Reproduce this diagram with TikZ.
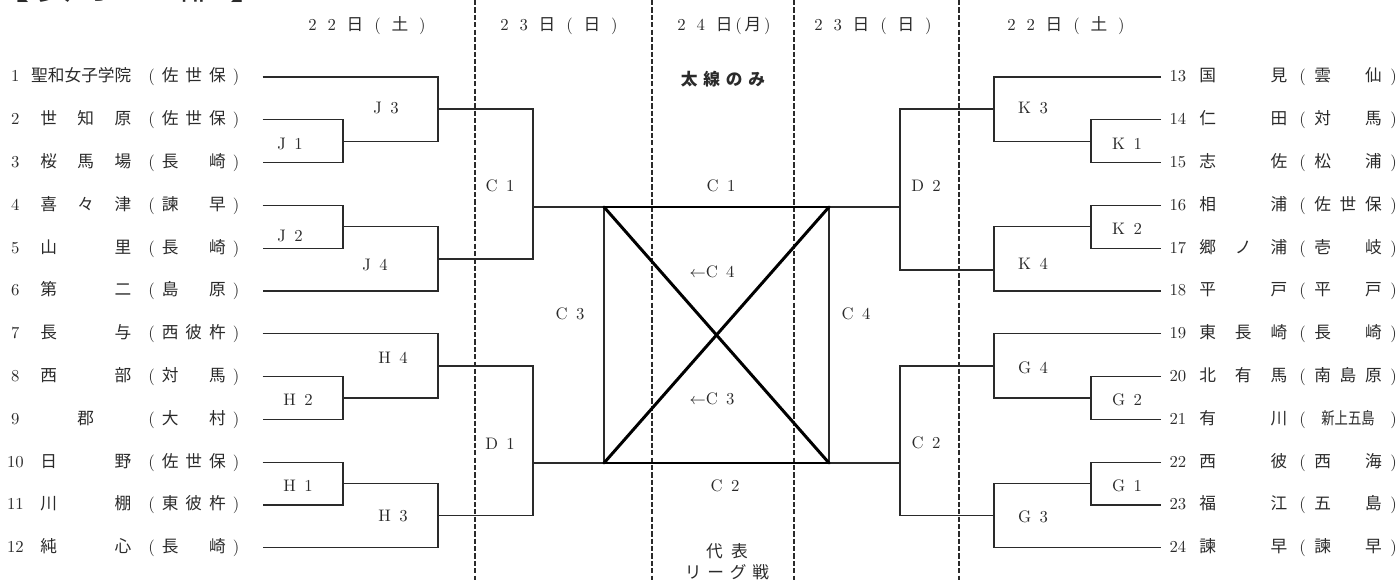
\documentclass[tikz,border=0pt]{standalone}
\usepackage{fontspec}
\usepackage{graphicx}
\newfontfamily\cjk{Noto Sans CJK JP}
\usetikzlibrary{positioning}
\tikzset{font=\fontsize{9.5}{11}\selectfont}
\definecolor{ink}{HTML}{2A2A2A}

\newlength{\numw}\newlength{\namew}\newlength{\cityw}
\newlength{\gapa}\newlength{\gapb}
\newcommand{\jslot}[1]{\makebox[1em]{\cjk #1}}
\newcommand{\three}[3]{\jslot{#1}\hfill\jslot{#2}\hfill\jslot{#3}}
\newcommand{\teamrow}[3]{\makebox[\numw]{#1}\hspace{\gapa}%
  \makebox[\namew][s]{#2}\hspace{\gapb}\makebox[\cityw][s]{(\hfill#3\hfill)}}
\newcommand{\dgap}{\hspace{.65em}}

\tikzset{
  lrow/.style={anchor=west, inner sep=0pt, text=ink,
    execute at begin node={\setlength{\numw}{.4cm}\setlength{\gapa}{.3cm}%
      \setlength{\namew}{1.82cm}\setlength{\gapb}{.34cm}\setlength{\cityw}{1.82cm}}},
  rrow/.style={anchor=west, inner sep=0pt, text=ink,
    execute at begin node={\setlength{\numw}{.42cm}\setlength{\gapa}{.22cm}%
      \setlength{\namew}{1.76cm}\setlength{\gapb}{.24cm}\setlength{\cityw}{1.95cm}}},
  bracket/.style={draw=ink, line width=.7pt},
  final/.style={draw=black, line width=1.7pt, line cap=round},
  daysep/.style={draw=ink, line width=.6pt, dash pattern=on 3pt off 1.2pt},
  game/.style={inner sep=1pt, text=ink}
}

\begin{document}
\begin{tikzpicture}[x=0.02cm, y=-0.02cm]
\useasboundingbox (0,0) rectangle (1400,580);

% title, cut at the top edge
\foreach \x/\c [count=\k] in {12/【,55/女,103/子,150/の,197/部,248/】}
\node[font=\cjk\fontsize{20}{24}\selectfont, text=ink] (title\k) at (\x,-14) {\c};

% day columns
\foreach \x in {475,652,794,959}
\draw[daysep] (\x,0) -- (\x,580);
\node[game] (d22l) at (367,26) {2\dgap2\dgap{\cjk 日}\dgap(\dgap{\cjk 土}\dgap)};
\node[game] (d23l) at (559,26) {2\dgap3\dgap{\cjk 日}\dgap(\dgap{\cjk 日}\dgap)};
\node[game] (d24) at (724,26) {2\dgap4\dgap{\cjk 日}\,(\,{\cjk 月}\,)};
\node[game] (d23r) at (873,26) {2\dgap3\dgap{\cjk 日}\dgap(\dgap{\cjk 日}\dgap)};
\node[game] (d22r) at (1066,26) {2\dgap2\dgap{\cjk 日}\dgap(\dgap{\cjk 土}\dgap)};

% left teams
\node[lrow] (t1) at (5,77) {\teamrow{1}{\hfill\llap{\cjk 聖和女子学院}}{\three{佐}{世}{保}}};
\node[lrow] (t2) at (5,119.8) {\teamrow{2}{\three{世}{知}{原}}{\three{佐}{世}{保}}};
\node[lrow] (t3) at (5,162.6) {\teamrow{3}{\three{桜}{馬}{場}}{\three{長}{}{崎}}};
\node[lrow] (t4) at (5,205.4) {\teamrow{4}{\three{喜}{々}{津}}{\three{諫}{}{早}}};
\node[lrow] (t5) at (5,248.2) {\teamrow{5}{\three{山}{}{里}}{\three{長}{}{崎}}};
\node[lrow] (t6) at (5,291) {\teamrow{6}{\three{第}{}{二}}{\three{島}{}{原}}};
\node[lrow] (t7) at (5,333.8) {\teamrow{7}{\three{長}{}{与}}{\three{西}{彼}{杵}}};
\node[lrow] (t8) at (5,376.6) {\teamrow{8}{\three{西}{}{部}}{\three{対}{}{馬}}};
\node[lrow] (t9) at (5,419.4) {\teamrow{9}{\three{}{郡}{}}{\three{大}{}{村}}};
\node[lrow] (t10) at (5,462.2) {\teamrow{10}{\three{日}{}{野}}{\three{佐}{世}{保}}};
\node[lrow] (t11) at (5,505) {\teamrow{11}{\three{川}{}{棚}}{\three{東}{彼}{杵}}};
\node[lrow] (t12) at (5,547.8) {\teamrow{12}{\three{純}{}{心}}{\three{長}{}{崎}}};

% right teams
\node[rrow] (t13) at (1167,77) {\teamrow{13}{\three{国}{}{見}}{\three{雲}{}{仙}}};
\node[rrow] (t14) at (1167,119.8) {\teamrow{14}{\three{仁}{}{田}}{\three{対}{}{馬}}};
\node[rrow] (t15) at (1167,162.6) {\teamrow{15}{\three{志}{}{佐}}{\three{松}{}{浦}}};
\node[rrow] (t16) at (1167,205.4) {\teamrow{16}{\three{相}{}{浦}}{\three{佐}{世}{保}}};
\node[rrow] (t17) at (1167,248.2) {\teamrow{17}{\three{郷}{ノ}{浦}}{\three{壱}{}{岐}}};
\node[rrow] (t18) at (1167,291) {\teamrow{18}{\three{平}{}{戸}}{\three{平}{}{戸}}};
\node[rrow] (t19) at (1167,333.8) {\teamrow{19}{\three{東}{長}{崎}}{\three{長}{}{崎}}};
\node[rrow] (t20) at (1167,376.6) {\teamrow{20}{\three{北}{有}{馬}}{\three{南}{島}{原}}};
\node[rrow] (t21) at (1167,419.4) {\teamrow{21}{\three{有}{}{川}}{\scalebox{.8}[1]{\cjk 新上五島}}};
\node[rrow] (t22) at (1167,462.2) {\teamrow{22}{\three{西}{}{彼}}{\three{西}{}{海}}};
\node[rrow] (t23) at (1167,505) {\teamrow{23}{\three{福}{}{江}}{\three{五}{}{島}}};
\node[rrow] (t24) at (1167,547.8) {\teamrow{24}{\three{諫}{}{早}}{\three{諫}{}{早}}};

\foreach \i in {1,...,12}
\coordinate (p\i) at ([xshift=.46cm]t\i.east);
\foreach \i in {13,...,24}
\coordinate (q\i) at ([xshift=-.12cm]t\i.west);

% joints
\coordinate (j1) at (343,141.2); \coordinate (j2) at (343,226.8);
\coordinate (h2) at (343,398);   \coordinate (h1) at (343,483.6);
\coordinate (j3) at (438,109.1); \coordinate (j4) at (438,258.9);
\coordinate (h4) at (438,365.9); \coordinate (h3) at (438,515.7);
\coordinate (c1) at (533,207);   \coordinate (d1) at (533,463);
\coordinate (nw) at (604,207);   \coordinate (ne) at (829,207);
\coordinate (sw) at (604,463);   \coordinate (se) at (829,463);
\coordinate (d2) at (900,207);   \coordinate (c2) at (900,463);
\coordinate (k3) at (994,109.1); \coordinate (k4) at (994,270);
\coordinate (g4) at (994,365.9); \coordinate (g3) at (994,515.7);
\coordinate (k1) at (1091,141.2); \coordinate (k2) at (1091,226.8);
\coordinate (g2) at (1091,398);  \coordinate (g1) at (1091,483.6);

% left bracket
\draw[bracket] (p2) -| (j1) |- (p3);
\draw[bracket] (p1) -| (j3) |- (j1);
\draw[bracket] (p4) -| (j2) |- (p5);
\draw[bracket] (j2) -| (j4) |- (p6);
\draw[bracket] (p8) -| (h2) |- (p9);
\draw[bracket] (p7) -| (h4) |- (h2);
\draw[bracket] (p10) -| (h1) |- (p11);
\draw[bracket] (h1) -| (h3) |- (p12);
\draw[bracket] (j3) -| (c1) |- (j4);
\draw[bracket] (h4) -| (d1) |- (h3);
\draw[bracket] (c1) -- (nw);
\draw[bracket] (d1) -- (sw);

% right bracket
\draw[bracket] (q14) -| (k1) |- (q15);
\draw[bracket] (q13) -| (k3) |- (k1);
\draw[bracket] (q16) -| (k2) |- (q17);
\draw[bracket] (k2) -| (k4) |- (q18);
\draw[bracket] (q20) -| (g2) |- (q21);
\draw[bracket] (q19) -| (g4) |- (g2);
\draw[bracket] (q22) -| (g1) |- (q23);
\draw[bracket] (g1) -| (g3) |- (q24);
\draw[bracket] (k3) -| (d2) |- (k4);
\draw[bracket] (g4) -| (c2) |- (g3);
\draw[bracket] (d2) -- (ne);
\draw[bracket] (c2) -- (se);

% league square
\draw[bracket] (nw) -- (sw);
\draw[bracket] (ne) -- (se);
\draw[final] (nw) -- (ne);
\draw[final] (sw) -- (se);
\draw[final] (nw) -- (se);
\draw[final] (ne) -- (sw);

% game labels
\node[game] (lJ3) at (386,108) {J\enspace3};
\node[game] (lJ1) at (290,144) {J\enspace1};
\node[game] (lJ2) at (290,236) {J\enspace2};
\node[game] (lJ4) at (375,265) {J\enspace4};
\node[game] (lH4) at (393,358) {H\enspace4};
\node[game] (lH2) at (298,400) {H\enspace2};
\node[game] (lH1) at (298,486) {H\enspace1};
\node[game] (lH3) at (393,516) {H\enspace3};
\node[game] (lC1) at (500,186) {C\enspace1};
\node[game] (lD1) at (500,444) {D\enspace1};
\node[game] (lC3) at (570,314) {C\enspace3};
\node[game] (lC4) at (856,314) {C\enspace4};
\node[game] (lD2) at (926,186) {D\enspace2};
\node[game] (lC2) at (926,443) {C\enspace2};
\node[game] (lK3) at (1033,108) {K\enspace3};
\node[game] (lK1) at (1127,144) {K\enspace1};
\node[game] (lK2) at (1127,229) {K\enspace2};
\node[game] (lK4) at (1033,264) {K\enspace4};
\node[game] (lG4) at (1033,368) {G\enspace4};
\node[game] (lG2) at (1127,400) {G\enspace2};
\node[game] (lG1) at (1127,486) {G\enspace1};
\node[game] (lG3) at (1033,517) {G\enspace3};
\node[game] (mC1) at (721,186) {C\enspace1};
\node[game] (mC2) at (725,486) {C\enspace2};
\node[game] (arC4) at (712,272) {$\leftarrow$C\enspace4};
\node[game] (arC3) at (712,399) {$\leftarrow$C\enspace3};
\node[game, font=\cjk\bfseries\fontsize{9.5}{11}\selectfont] (thick) at (723,79)
  {太\hspace{.35em}線\hspace{.35em}の\hspace{.35em}み};
\node[game, font=\cjk\fontsize{9.5}{11}\selectfont, align=center] (league) at (727,562)
  {代\hspace{.5em}表\\[1pt]リ\hspace{.35em}ー\hspace{.35em}グ\hspace{.35em}戦};
\end{tikzpicture}
\end{document}
